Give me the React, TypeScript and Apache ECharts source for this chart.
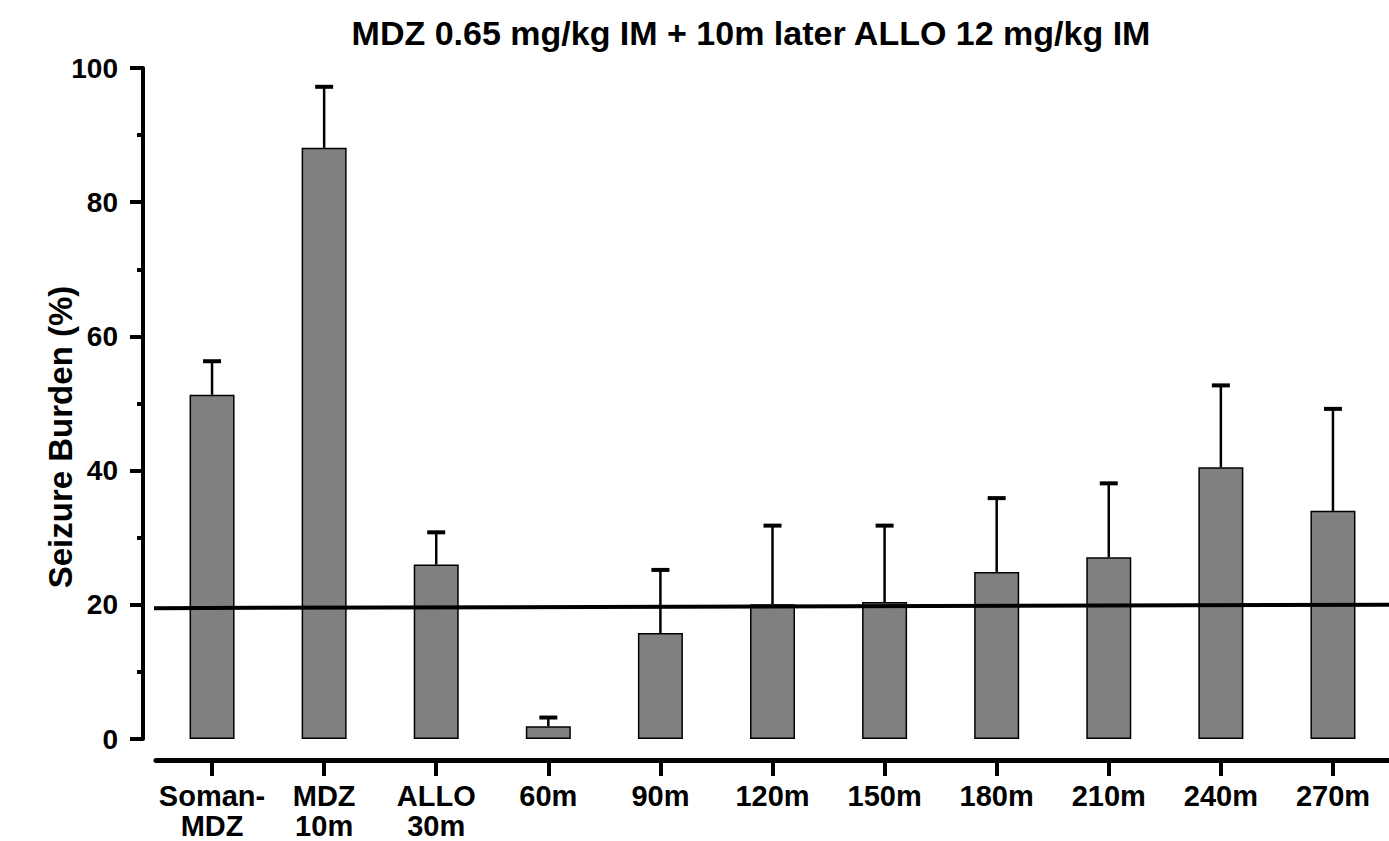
import React, { useEffect, useRef } from "react";
import * as echarts from "echarts";

const titleText = "MDZ 0.65 mg/kg IM + 10m later ALLO 12 mg/kg IM";
const yAxisTitle = "Seizure Burden (%)";
const categories = [
  "Soman-\nMDZ",
  "MDZ\n10m",
  "ALLO\n30m",
  "60m",
  "90m",
  "120m",
  "150m",
  "180m",
  "210m",
  "240m",
  "270m",
];
const means = [51.3, 88.1, 26.0, 1.9, 15.8, 20.1, 20.4, 24.9, 27.1, 40.5, 34.0];
const sems = [5.0, 9.1, 4.8, 1.3, 9.4, 11.7, 11.4, 11.0, 11.0, 12.2, 15.2];
// reference line: [relative x position along plot, value]
const thresholdLine = [
  [-0.0105, 19.5],
  [1, 20.0],
];
const yMin = 0;
const yMax = 100;
const yInterval = 20;

const FONT = "'Liberation Sans', Arial, Helvetica, sans-serif";

export default function App() {
  const ref = useRef<HTMLDivElement>(null);

  useEffect(() => {
    if (!ref.current) return;
    const chart = echarts.init(ref.current, undefined, { renderer: "svg" });
    const errData = means.map((m, i) => [i, m, m + sems[i]]);

    chart.setOption({
      animation: false,
      backgroundColor: "#ffffff",
      graphic: [
        {
          type: "text",
          x: 751,
          y: 33,
          style: {
            text: titleText,
            font: `bold 34px ${FONT}`,
            fill: "#000",
            textAlign: "center",
            textVerticalAlign: "middle",
          },
        },
        {
          type: "text",
          x: 60,
          y: 437,
          rotation: Math.PI / 2,
          style: {
            text: yAxisTitle,
            font: `bold 33px ${FONT}`,
            fill: "#000",
            textAlign: "center",
            textVerticalAlign: "middle",
          },
        },
      ],
      grid: { left: 156, top: 68, width: 1236, height: 675.5, containLabel: false },
      xAxis: [
        {
          type: "category",
          data: categories,
          offset: 21,
          boundaryGap: true,
          axisLine: { show: true, onZero: false, lineStyle: { color: "#000", width: 5 } },
          axisTick: {
            show: true,
            alignWithLabel: true,
            length: 16,
            lineStyle: { color: "#000", width: 4 },
          },
          axisLabel: {
            margin: 21,
            color: "#000",
            fontFamily: FONT,
            fontWeight: "bold",
            fontSize: 29,
            lineHeight: 30,
            interval: 0,
          },
          splitLine: { show: false },
        },
        {
          type: "value",
          min: 0,
          max: 1,
          show: false,
        },
      ],
      yAxis: {
        type: "value",
        min: yMin,
        max: yMax,
        interval: yInterval,
        offset: 13,
        axisLine: { show: true, onZero: false, lineStyle: { color: "#000", width: 4 } },
        axisTick: { show: true, length: 13, lineStyle: { color: "#000", width: 4 } },
        minorTick: { show: true, splitNumber: 2, length: 6, lineStyle: { color: "#000", width: 4 } },
        axisLabel: {
          margin: 25,
          color: "#000",
          fontFamily: FONT,
          fontWeight: "bold",
          fontSize: 28,
        },
        splitLine: { show: false },
      },
      series: [
        {
          type: "bar",
          data: means,
          barWidth: 45,
          itemStyle: { color: "#808080", borderColor: "#000", borderWidth: 1.5 },
          z: 2,
        },
        {
          type: "line",
          xAxisIndex: 1,
          data: thresholdLine,
          symbol: "none",
          clip: false,
          lineStyle: { color: "#000", width: 4 },
          z: 4,
        },
        {
          type: "custom",
          data: errData,
          encode: { x: 0, y: [1, 2] },
          clip: false,
          z: 5,
          renderItem: (params: any, api: any) => {
            const base = api.coord([api.value(0), api.value(1)]);
            const top = api.coord([api.value(0), api.value(2)]);
            return {
              type: "group",
              children: [
                {
                  type: "line",
                  shape: { x1: base[0], y1: base[1], x2: top[0], y2: top[1] },
                  style: { stroke: "#000", lineWidth: 2.5 },
                },
                {
                  type: "line",
                  shape: { x1: top[0] - 9, y1: top[1], x2: top[0] + 9, y2: top[1] },
                  style: { stroke: "#000", lineWidth: 4 },
                },
              ],
            };
          },
        },
      ],
    });

    return () => chart.dispose();
  }, []);

  return (
    <div
      ref={ref}
      style={{ position: "absolute", left: 0, top: 0, width: 1389, height: 841, background: "#fff" }}
    />
  );
}
